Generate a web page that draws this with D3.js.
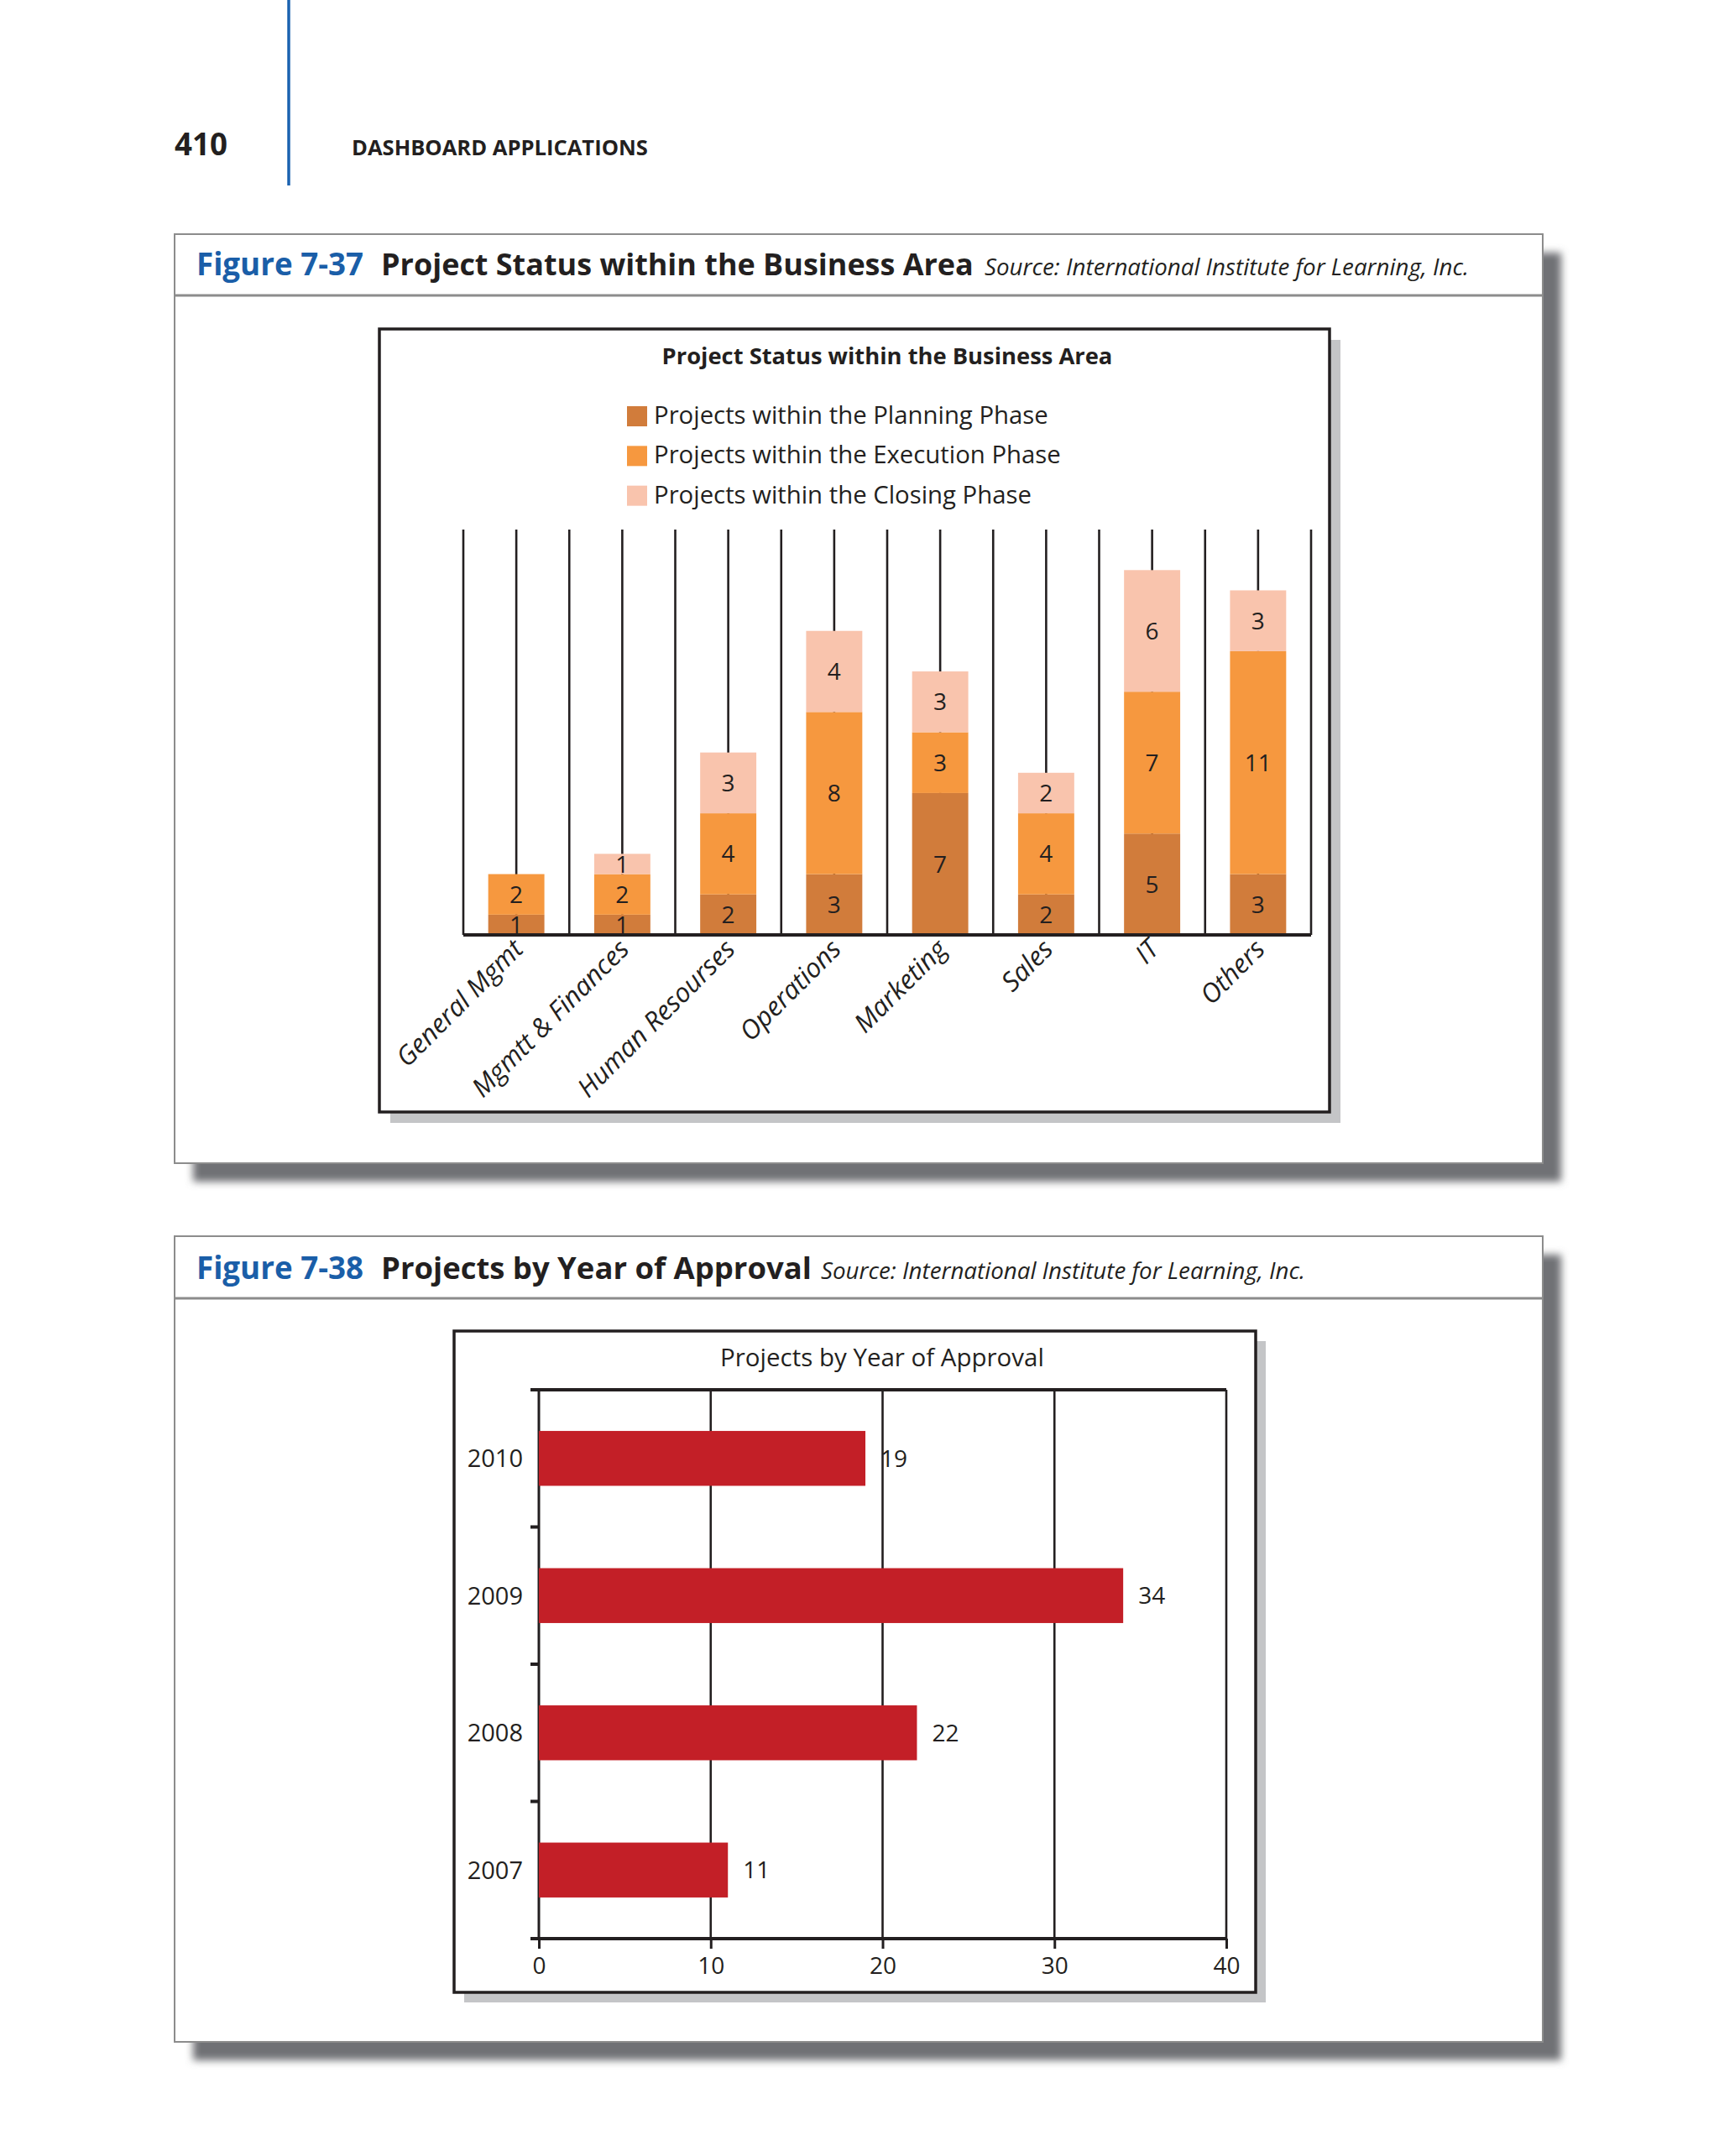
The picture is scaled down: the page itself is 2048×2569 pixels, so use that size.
<!DOCTYPE html>
<html>
<head>
<meta charset="utf-8">
<script src="https://cdn.jsdelivr.net/npm/d3@7"></script>
<style>
  html, body { margin: 0; padding: 0; background: #ffffff; }
  svg { display: block; }
  text { font-family: 'Open Sans', 'Noto Sans', 'DejaVu Sans', sans-serif; fill: #231f20; }
</style>
</head>
<body>
<script>
// ---------------- DATA ----------------
const categories = ["General Mgmt", "Mgmtt & Finances", "Human Resourses", "Operations", "Marketing", "Sales", "IT", "Others"];
const planning  = [1, 1, 2, 3, 7, 2, 5, 3];
const execution = [2, 2, 4, 8, 3, 4, 7, 11];
const closing   = [0, 1, 3, 4, 3, 2, 6, 3];
const phaseKeys = ["planning", "execution", "closing"];
const phaseLabels = ["Projects within the Planning Phase", "Projects within the Execution Phase", "Projects within the Closing Phase"];
const statusYTicks = [0, 20];

const years = ["2010", "2009", "2008", "2007"];
const yearValues = [19, 34, 22, 11];
const yearXTicks = [0, 10, 20, 30, 40];

const pageNumber = "410";
const runningHead = "DASHBOARD APPLICATIONS";
const fig1Num = "Figure 7-37", fig1Title = "Project Status within the Business Area";
const fig2Num = "Figure 7-38", fig2Title = "Projects by Year of Approval";
const sourceText = "Source: International Institute for Learning, Inc.";
const chart1Title = "Project Status within the Business Area";
const chart2Title = "Projects by Year of Approval";

// ---------------- SETUP ----------------
const W = 2048, H = 2569;
const INK = "#231f20";
const phaseColors = {planning: "#d17c3b", execution: "#f6983f", closing: "#f9c4ad"};
const barRed = "#c31f27";
const blue = "#1a5ea8";

const svg = d3.select("body").append("svg").attr("width", W).attr("height", H);
svg.append("rect").attr("width", W).attr("height", H).attr("fill", "#fff");
const defs = svg.append("defs");
defs.append("filter").attr("id", "blur").attr("x", "-5%").attr("y", "-5%").attr("width", "115%").attr("height", "115%")
  .append("feGaussianBlur").attr("stdDeviation", 5);

function fit(sel, width) {
  const len = sel.node().getComputedTextLength();
  const fs = parseFloat(sel.attr("font-size"));
  sel.attr("font-size", fs * width / len);
  return sel;
}

// ---------------- PAGE HEADER ----------------
svg.append("line").attr("x1", 344).attr("x2", 344).attr("y1", 0).attr("y2", 221)
  .attr("stroke", "#1b62b0").attr("stroke-width", 3.5);
fit(svg.append("text").attr("x", 208).attr("y", 185).attr("font-size", 36).attr("font-weight", 700).text(pageNumber), 63);
fit(svg.append("text").attr("x", 419).attr("y", 185).attr("font-size", 24).attr("font-weight", 700).text(runningHead), 353);

// ---------------- FIGURE FRAMES ----------------
function figureFrame(x, y, w, h, sepY, baseY, num, title, titleW, srcX) {
  svg.append("rect").attr("x", x + 22).attr("y", y + 22).attr("width", w).attr("height", h)
    .attr("fill", "#6f7174").attr("filter", "url(#blur)");
  svg.append("rect").attr("x", x).attr("y", y).attr("width", w).attr("height", h)
    .attr("fill", "#fff").attr("stroke", "#8c8c8c").attr("stroke-width", 2);
  svg.append("line").attr("x1", x).attr("x2", x + w).attr("y1", sepY).attr("y2", sepY)
    .attr("stroke", "#8c8c8c").attr("stroke-width", 3);
  fit(svg.append("text").attr("x", 234).attr("y", baseY).attr("font-size", 34).attr("font-weight", 700)
    .style("fill", blue).text(num), 199);
  fit(svg.append("text").attr("x", 454).attr("y", baseY).attr("font-size", 34).attr("font-weight", 700)
    .text(title), titleW);
  fit(svg.append("text").attr("x", srcX).attr("y", baseY).attr("font-size", 24).attr("font-style", "italic")
    .text(sourceText), 577);
}
figureFrame(208, 279, 1630, 1107, 352, 328, fig1Num, fig1Title, 706, 1173);
figureFrame(208, 1473, 1630, 960, 1547, 1524, fig2Num, fig2Title, 513, 978);

function chartBox(x, y, w, h, off) {
  svg.append("rect").attr("x", x + off).attr("y", y + off).attr("width", w).attr("height", h).attr("fill", "#c4c5c7");
  svg.append("rect").attr("x", x).attr("y", y).attr("width", w).attr("height", h)
    .attr("fill", "#fff").attr("stroke", INK).attr("stroke-width", 3.5);
}

// ---------------- CHART 1: stacked columns ----------------
chartBox(452, 392, 1132, 933, 13);
fit(svg.append("text").attr("x", 1057).attr("y", 434).attr("text-anchor", "middle")
  .attr("font-size", 25).attr("font-weight", 700).text(chart1Title), 537);

// legend
const legY = d3.scaleBand().domain(phaseKeys).range([484, 626]).paddingInner(0);
const legend = svg.append("g");
phaseKeys.forEach((k, i) => {
  const yy = legY(k);
  legend.append("rect").attr("x", 747).attr("y", yy).attr("width", 24).attr("height", 24).attr("fill", phaseColors[k]);
  legend.append("text").attr("class", "leg").attr("x", 779).attr("y", yy + 21).attr("font-size", 27).text(phaseLabels[i]);
});
{
  const first = legend.select("text.leg");
  fit(first, 470);
  const fs = first.attr("font-size");
  legend.selectAll("text.leg").attr("font-size", fs);
}

const x1 = d3.scaleBand().domain(categories).range([552, 1562]).paddingInner(0.47).paddingOuter(0.235);
const y1 = d3.scaleLinear().domain(d3.extent(statusYTicks)).range([1114, 631]);
const step = x1.step(), bw = x1.bandwidth();
const g1 = svg.append("g");

// category separators and center lines
const seps = d3.range(categories.length + 1).map(i => x1.range()[0] + i * step);
g1.selectAll("line.sep").data(seps).join("line").attr("class", "sep")
  .attr("x1", d => d).attr("x2", d => d).attr("y1", y1(20)).attr("y2", y1(0))
  .attr("stroke", INK).attr("stroke-width", 2.6);
g1.selectAll("line.ctr").data(categories).join("line").attr("class", "ctr")
  .attr("x1", d => x1(d) + bw / 2).attr("x2", d => x1(d) + bw / 2).attr("y1", y1(20)).attr("y2", y1(0))
  .attr("stroke", INK).attr("stroke-width", 2.6);

const rows = categories.map((c, i) => ({cat: c, planning: planning[i], execution: execution[i], closing: closing[i]}));
const stacked = d3.stack().keys(phaseKeys)(rows);
stacked.forEach(layer => {
  g1.append("g").selectAll("rect").data(layer).join("rect")
    .attr("x", d => x1(d.data.cat)).attr("width", bw)
    .attr("y", d => y1(d[1])).attr("height", d => y1(d[0]) - y1(d[1]))
    .attr("fill", phaseColors[layer.key]);
});
stacked.forEach(layer => {
  g1.append("g").selectAll("text").data(layer.filter(d => d[1] - d[0] > 0)).join("text")
    .attr("x", d => x1(d.data.cat) + bw / 2).attr("y", d => (y1(d[0]) + y1(d[1])) / 2)
    .attr("dy", "0.36em").attr("text-anchor", "middle").attr("font-size", 28)
    .text(d => d[1] - d[0]);
});
// baseline axis
g1.append("line").attr("x1", seps[0]).attr("x2", seps[seps.length - 1]).attr("y1", y1(0)).attr("y2", y1(0))
  .attr("stroke", INK).attr("stroke-width", 4);
// category labels
g1.selectAll("text.cat").data(categories).join("text").attr("class", "cat")
  .attr("transform", d => `translate(${x1(d) + bw / 2 + 10},${y1(0) + 19}) rotate(-45)`)
  .attr("text-anchor", "end").attr("font-size", 31.5).attr("font-style", "italic").text(d => d);

// ---------------- CHART 2: horizontal bars ----------------
chartBox(541, 1586, 955, 788, 12);
fit(svg.append("text").attr("x", 1051).attr("y", 1628).attr("text-anchor", "middle")
  .attr("font-size", 26).text(chart2Title), 386);

const x2 = d3.scaleLinear().domain(d3.extent(yearXTicks)).range([642, 1461]);
const y2 = d3.scaleBand().domain(years).range([1656, 2310]).paddingInner(0.6).paddingOuter(0.3);
const g2 = svg.append("g");
const [top2, bot2] = y2.range();

// gridlines
g2.selectAll("line.grid").data(yearXTicks.slice(1)).join("line").attr("class", "grid")
  .attr("x1", d => x2(d)).attr("x2", d => x2(d)).attr("y1", top2).attr("y2", bot2)
  .attr("stroke", INK).attr("stroke-width", 2.6);
// left axis line
g2.append("line").attr("x1", x2(0)).attr("x2", x2(0)).attr("y1", top2).attr("y2", bot2)
  .attr("stroke", INK).attr("stroke-width", 3);
// top frame line
g2.append("line").attr("x1", x2(0) - 10).attr("x2", x2(40)).attr("y1", top2).attr("y2", top2)
  .attr("stroke", INK).attr("stroke-width", 4);
// category boundary ticks on left
const yb = d3.range(years.length + 1).map(i => top2 + i * y2.step());
g2.selectAll("line.ytick").data(yb).join("line").attr("class", "ytick")
  .attr("x1", x2(0) - 10).attr("x2", x2(0)).attr("y1", d => d).attr("y2", d => d)
  .attr("stroke", INK).attr("stroke-width", 4);

// bars
const yearRows = years.map((y, i) => ({year: y, value: yearValues[i]}));
g2.selectAll("rect.bar").data(yearRows).join("rect").attr("class", "bar")
  .attr("x", x2(0)).attr("y", d => y2(d.year)).attr("width", d => x2(d.value) - x2(0))
  .attr("height", y2.bandwidth()).attr("fill", barRed);
g2.selectAll("text.val").data(yearRows).join("text").attr("class", "val")
  .attr("x", d => x2(d.value) + 18).attr("y", d => y2(d.year) + y2.bandwidth() / 2)
  .attr("dy", "0.36em").attr("font-size", 28).text(d => d.value);
g2.selectAll("text.yr").data(years).join("text").attr("class", "yr")
  .attr("x", x2(0) - 19).attr("y", d => y2(d) + y2.bandwidth() / 2)
  .attr("dy", "0.36em").attr("text-anchor", "end").attr("font-size", 29).text(d => d);

// bottom axis
const xAxis = d3.axisBottom(x2).tickValues(yearXTicks).tickSize(12).tickSizeOuter(0).tickPadding(10);
const ax = g2.append("g").attr("transform", `translate(0,${bot2})`).call(xAxis);
ax.select(".domain").attr("stroke", INK).attr("stroke-width", 4).attr("d", `M${x2(0) - 10},0H${x2(40)}`);
ax.selectAll(".tick line").attr("stroke", INK).attr("stroke-width", 3);
ax.selectAll(".tick text").attr("font-size", 28).attr("font-family", null).style("fill", INK);
ax.attr("font-family", null).attr("font-size", null);
</script>
</body>
</html>
